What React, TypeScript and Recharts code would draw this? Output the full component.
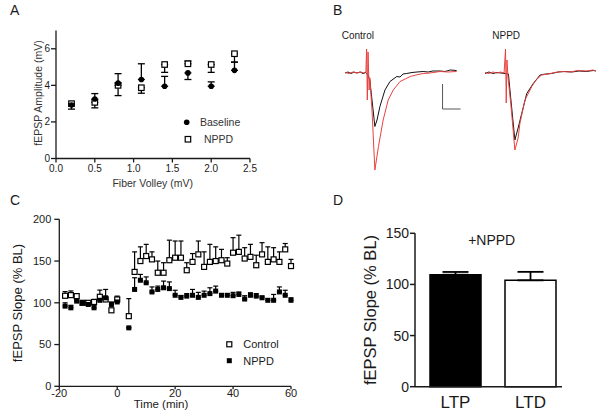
import React from 'react';
import {
  ScatterChart, Scatter, XAxis, YAxis, ErrorBar, LineChart, Line,
  BarChart, Bar, Cell, ReferenceLine,
} from 'recharts';

const FONT = '"Liberation Sans", Arial, Helvetica, sans-serif';
const INK = '#1a1a1a';

// ---------- Panel A: input/output ----------
const fiberVolley = [0.2, 0.5, 0.8, 1.1, 1.4, 1.7, 2.0, 2.3];
const baselineAmp = [2.92, 3.25, 4.12, 4.32, 3.95, 4.68, 3.95, 4.82];
const baselineErr = [[0, 0.1], [0, 0.3], [0, 0.52], [0, 0.86], [0, 0.54], [0.36, 0], [0, 0.24], [0, 0.45]];
const nppdAmp = [3.0, 3.07, 4.0, 3.87, 5.14, 5.18, 5.14, 5.73];
const nppdErr = [[0.3, 0], [0.3, 0], [0.56, 0], [0.3, 0], [0.43, 0], [0, 0.15], [0.43, 0], [0.46, 0]];
const ampTicks = [0, 2, 4, 6];
const volleyTicks = [0, 0.5, 1, 1.5, 2, 2.5];

// ---------- Panel B: example traces (ms, mV) ----------
const ctrlBlack = [
  [0, -0.02], [0.8, 0.0], [1.7, -0.03], [2.5, 0], [3.3, -0.02], [4.2, 0], [5.0, -0.03], [5.8, -0.01],
  [6.4, -0.06], [6.9, -0.16], [7.5, -0.56], [8.3, -1.09], [8.9, -0.96], [9.7, -0.69], [11.1, -0.36],
  [12.5, -0.19], [14.4, -0.09], [15.3, -0.1], [16.1, -0.04], [17.1, -0.03], [18.6, -0.01], [20, 0.0],
  [21.7, 0.01], [23.1, 0], [24.4, 0.02], [26.4, 0.02], [27.8, 0.01], [29.2, 0.04], [31, 0.03],
];
const ctrlRed = [
  [0, -0.01], [1.1, -0.03], [2.2, 0], [3.3, -0.02], [4.4, 0], [5.3, -0.02], [5.8, 0], [6.0, 0.46],
  [6.2, -0.56], [6.4, 0.4], [6.7, -0.36], [6.9, -0.12], [7.5, -0.76], [8.3, -1.96], [9.3, -1.49],
  [10.6, -0.96], [12.0, -0.56], [13.4, -0.36], [15.3, -0.19], [16.7, -0.14], [18.1, -0.09],
  [19.7, -0.06], [21.7, -0.03], [23.6, -0.02], [26.4, 0.01], [28.6, 0], [31, 0.01],
];
const nppdBlack = [
  [0, -0.03], [1.1, 0], [2.2, -0.03], [3.3, -0.01], [4.4, -0.02], [5.6, -0.03], [6.5, -0.04],
  [7.2, -0.56], [8.3, -1.36], [9.2, -1.12], [10.2, -0.83], [11.6, -0.43], [13.4, -0.23], [15.3, -0.06],
  [16.9, -0.04], [18.5, -0.03], [20.3, 0], [22.2, 0.01], [24.2, 0], [26.1, 0.02], [28.1, 0.01],
  [30.1, 0.03], [30.8, 0.02],
];
const nppdRed = [
  [0, -0.01], [1.1, -0.03], [2.2, 0], [3.3, -0.02], [4.4, 0], [5.3, -0.02], [5.7, 0.46], [5.9, -0.62],
  [6.1, 0.24], [6.4, -0.12], [7.2, -0.66], [8.3, -1.56], [9.2, -1.32], [9.7, -1.03], [11.1, -0.56],
  [13.0, -0.29], [14.2, -0.16], [15.7, -0.06], [17.5, -0.04], [19.4, -0.01], [21.4, 0.01], [23.6, 0],
  [25.8, 0.03], [28.1, 0.02], [30, 0.04], [30.8, 0.02],
];
const scaleBarStart = [27.1, -0.24];
const scaleBarMs = 5;
const scaleBarMv = 0.5;

// ---------- Panel C: time course ----------
const timeMin = [-18, -16, -14, -12, -10, -8, -6, -4, -2, 0, 4, 6, 8, 10, 12, 14, 16, 18, 20, 22, 24, 26, 28, 30,
  32, 34, 36, 38, 40, 42, 44, 46, 48, 50, 52, 54, 56, 58, 60];
const controlSlope = [108.4, 109.2, 108, 100, 100, 101, 107.2, 104, 91, 104, 84, 137, 150, 156, 152, 136, 136, 151,
  154, 154, 139, 149, 158, 143, 149, 150, 151, 147, 160, 161, 153, 155, 145, 158, 149, 152, 149, 164, 144];
const controlErr = [5, 5, 3, 2, 2, 3, 8, 3, 2, 4, 21, 24, 17, 14, 9, 14, 12, 24, 20, 20, 9, 10, 16, 18, 21, 17, 13,
  7, 18, 20, 13, 15, 12, 14, 18, 14, 12, 7, 8];
const nppdSlope = [96, 94, 102, 100, 98, 94, 103, 106, 98, 101, 70, 116, 127, 124, 113, 116, 118, 117, 109, 106.5,
  108, 109, 106.5, 109, 111, 114, 109, 109, 108.5, 110, 104.5, 109, 108, 106, 103, 103, 113, 109, 103];
const nppdSlopeErr = [4, 3, 2, 2, 2, 3, 4, 10, 3, 4, 0, 14, 7, 7, 6, 4, 8, 8, 6, 2, 3, 7, 6, 5, 7, 6, 2, 2, 4, 3, 4,
  3, 3, 2, 2, 7, 6, 6, 3];
const slopeTicks = [0, 50, 100, 150, 200];
const timeTicks = [-20, 0, 20, 40, 60];

// ---------- Panel D: summary ----------
const conditions = ['LTP', 'LTD'];
const summarySlope = [109.5, 104];
const summaryErr = [2.7, 8.3];
const summaryTicks = [0, 50, 100, 150];

// ---------- derived tables ----------
const baselineData = fiberVolley.map((x, i) => ({ x, y: baselineAmp[i], err: baselineErr[i] }));
const nppdAData = fiberVolley.map((x, i) => ({ x, y: nppdAmp[i], err: nppdErr[i] }));
const toPts = (arr: number[][]) => arr.map(([t, v]) => ({ t, v }));
const controlData = timeMin.map((x, i) => ({ x, y: controlSlope[i], err: [0, controlErr[i]] }));
const nppdCData = timeMin.map((x, i) => ({ x, y: nppdSlope[i], err: [0, nppdSlopeErr[i]] }));
const summaryData = conditions.map((c, i) => ({ pos: i + 1, value: summarySlope[i], err: [0, summaryErr[i]] }));

const filledCircle = (r: number) => (p: any) => <circle cx={p.cx} cy={p.cy} r={r} fill="#000" />;
const openSquare = (s: number) => (p: any) => (
  <rect x={p.cx - s / 2} y={p.cy - s / 2} width={s} height={s} fill="#fff" stroke="#000" strokeWidth={1.2} />
);
const filledSquare = (s: number) => (p: any) => (
  <rect x={p.cx - s / 2} y={p.cy - s / 2} width={s} height={s} fill="#000" />
);

const Txt = ({ x, y, size, children, anchor = 'left', color = INK }: any) => (
  <div style={{
    position: 'absolute', left: x, top: y, fontSize: size, lineHeight: 1, whiteSpace: 'nowrap', color,
    transform: anchor === 'center' ? 'translate(-50%,-50%)' : 'translate(0,-50%)',
  }}>{children}</div>
);
const VTxt = ({ x, y, size, children, color = INK }: any) => (
  <div style={{
    position: 'absolute', left: x, top: y, fontSize: size, lineHeight: 1, whiteSpace: 'nowrap', color,
    transform: 'translate(-50%,-50%) rotate(-90deg)',
  }}>{children}</div>
);

const axisA = { stroke: INK, strokeWidth: 1.3 };

export default function App() {
  return (
    <div style={{ position: 'absolute', left: 0, top: 0, width: 600, height: 419, background: '#fff', fontFamily: FONT, overflow: 'hidden' }}>
      {/* Panel letters */}
      <Txt x={10} y={10} size={14}>A</Txt>
      <Txt x={333} y={10} size={14}>B</Txt>
      <Txt x={10} y={200} size={14}>C</Txt>
      <Txt x={333} y={200} size={14}>D</Txt>

      {/* ---------- A ---------- */}
      <div style={{ position: 'absolute', left: 0, top: 0 }}>
        <ScatterChart width={300} height={200} margin={{ top: 30.5, right: 50, bottom: 11.5, left: 26 }}>
          <XAxis type="number" dataKey="x" domain={[0, 2.5]} ticks={volleyTicks} interval={0}
            tickFormatter={(v: number) => v.toFixed(1)} height={30} tickSize={4} tickMargin={2}
            axisLine={axisA} tickLine={axisA} tick={{ fontSize: 10, fill: INK }} />
          <YAxis type="number" dataKey="y" domain={[0, 7]} ticks={ampTicks} interval={0} width={30}
            tickSize={5} tickMargin={1} axisLine={axisA} tickLine={axisA} tick={{ fontSize: 10, fill: INK }} />
          <Scatter data={nppdAData} shape={openSquare(5.5)} isAnimationActive={false}>
            <ErrorBar dataKey="err" direction="y" width={3.5} stroke="#000" strokeWidth={1.3} />
          </Scatter>
          <Scatter data={baselineData} shape={filledCircle(2.8)} isAnimationActive={false}>
            <ErrorBar dataKey="err" direction="y" width={3.5} stroke="#000" strokeWidth={1.3} />
          </Scatter>
        </ScatterChart>
      </div>
      <VTxt x={38} y={93} size={10.5} color="#333">fEPSP Amplitude (mV)</VTxt>
      <Txt x={152.7} y={183.3} size={10.5} anchor="center" color="#333">Fiber Volley (mV)</Txt>
      <svg style={{ position: 'absolute', left: 0, top: 0 }} width={300} height={200}>
        <circle cx={186.7} cy={122.3} r={2.8} fill="#000" />
        <rect x={185.2} y={136.5} width={5.5} height={5.5} fill="#fff" stroke="#000" strokeWidth={1.2} />
      </svg>
      <Txt x={200} y={122.3} size={10.5} color="#333">Baseline</Txt>
      <Txt x={204} y={139.3} size={10.5} color="#333">NPPD</Txt>

      {/* ---------- B ---------- */}
      <Txt x={341.7} y={36} size={10}>Control</Txt>
      <Txt x={492.3} y={36} size={10}>NPPD</Txt>
      <div style={{ position: 'absolute', left: 345, top: 42 }}>
        <LineChart width={118.8} height={140} margin={{ top: 0, right: 0, bottom: 0, left: 0 }}>
          <XAxis type="number" dataKey="t" domain={[0, 33]} hide />
          <YAxis type="number" domain={[-2.2, 0.6]} hide />
          <Line data={toPts(ctrlBlack)} dataKey="v" type="linear" dot={false} stroke="#111" strokeWidth={1} isAnimationActive={false} />
          <Line data={toPts(ctrlRed)} dataKey="v" type="linear" dot={false} stroke="#e8413f" strokeWidth={1} isAnimationActive={false} />
          <ReferenceLine ifOverflow="visible" stroke="#555" strokeWidth={1}
            segment={[{ x: scaleBarStart[0], y: scaleBarStart[1] }, { x: scaleBarStart[0], y: scaleBarStart[1] - scaleBarMv }]} />
          <ReferenceLine ifOverflow="visible" stroke="#555" strokeWidth={1}
            segment={[{ x: scaleBarStart[0], y: scaleBarStart[1] - scaleBarMv }, { x: scaleBarStart[0] + scaleBarMs, y: scaleBarStart[1] - scaleBarMv }]} />
        </LineChart>
      </div>
      <div style={{ position: 'absolute', left: 485, top: 42 }}>
        <LineChart width={111.6} height={140} margin={{ top: 0, right: 0, bottom: 0, left: 0 }}>
          <XAxis type="number" dataKey="t" domain={[0, 31]} hide />
          <YAxis type="number" domain={[-2.2, 0.6]} hide />
          <Line data={toPts(nppdBlack)} dataKey="v" type="linear" dot={false} stroke="#111" strokeWidth={1} isAnimationActive={false} />
          <Line data={toPts(nppdRed)} dataKey="v" type="linear" dot={false} stroke="#e8413f" strokeWidth={1} isAnimationActive={false} />
        </LineChart>
      </div>

      {/* ---------- C ---------- */}
      <div style={{ position: 'absolute', left: 0, top: 190 }}>
        <ScatterChart width={300} height={229} margin={{ top: 29.3, right: 9, bottom: 7.7, left: 29.3 }}>
          <XAxis type="number" dataKey="x" domain={[-20, 60]} ticks={timeTicks} interval={0} height={25}
            tickSize={3} tickMargin={0} axisLine={axisA} tickLine={axisA} tick={{ fontSize: 11, fill: INK }} />
          <YAxis type="number" dataKey="y" domain={[0, 200]} ticks={slopeTicks} interval={0} width={30}
            tickSize={5} tickMargin={3} axisLine={axisA} tickLine={axisA} tick={{ fontSize: 11, fill: INK }} />
          <Scatter data={controlData} shape={openSquare(5)} isAnimationActive={false}>
            <ErrorBar dataKey="err" direction="y" width={2.5} stroke="#000" strokeWidth={1.2} />
          </Scatter>
          <Scatter data={nppdCData} shape={filledSquare(5)} isAnimationActive={false}>
            <ErrorBar dataKey="err" direction="y" width={2.5} stroke="#000" strokeWidth={1.2} />
          </Scatter>
        </ScatterChart>
      </div>
      <VTxt x={17} y={302.5} size={13}>fEPSP Slope (% BL)</VTxt>
      <Txt x={161} y={405} size={11.5} anchor="center">Time (min)</Txt>
      <svg style={{ position: 'absolute', left: 0, top: 190 }} width={300} height={229}>
        <rect x={226.8} y={151.8} width={5} height={5} fill="#fff" stroke="#000" strokeWidth={1.2} />
        <rect x={226.8} y={168.2} width={5} height={5} fill="#000" />
      </svg>
      <Txt x={243.3} y={344.3} size={11}>Control</Txt>
      <Txt x={243.3} y={360.7} size={11}>NPPD</Txt>

      {/* ---------- D ---------- */}
      <div style={{ position: 'absolute', left: 300, top: 190 }}>
        <BarChart data={summaryData} width={300} height={229} margin={{ top: 43.3, right: 38, bottom: 2.3, left: 75 }}>
          <XAxis type="number" dataKey="pos" domain={[0.46, 2.42]} ticks={[1, 2]} interval={0} height={30}
            tickFormatter={(v: number) => conditions[v - 1]} tickLine={false} tickSize={6} tickMargin={3}
            axisLine={{ stroke: INK, strokeWidth: 1.5 }} tick={{ fontSize: 17, fill: INK }} />
          <YAxis type="number" domain={[0, 150]} ticks={summaryTicks} interval={0} width={40} tickSize={5}
            tickMargin={1} axisLine={{ stroke: INK, strokeWidth: 1.5 }} tickLine={{ stroke: INK, strokeWidth: 1.5 }}
            tick={{ fontSize: 14, fill: INK }} />
          <Bar dataKey="value" barSize={51} isAnimationActive={false}>
            <Cell fill="#000" stroke="#000" strokeWidth={1.5} />
            <Cell fill="#fff" stroke="#000" strokeWidth={1.5} />
            <ErrorBar dataKey="err" direction="y" width={13} stroke="#000" strokeWidth={1.8} />
          </Bar>
        </BarChart>
      </div>
      <VTxt x={370} y={310} size={16.5}>fEPSP Slope (% BL)</VTxt>
      <Txt x={491.7} y={240} size={14} anchor="center">+NPPD</Txt>
    </div>
  );
}
